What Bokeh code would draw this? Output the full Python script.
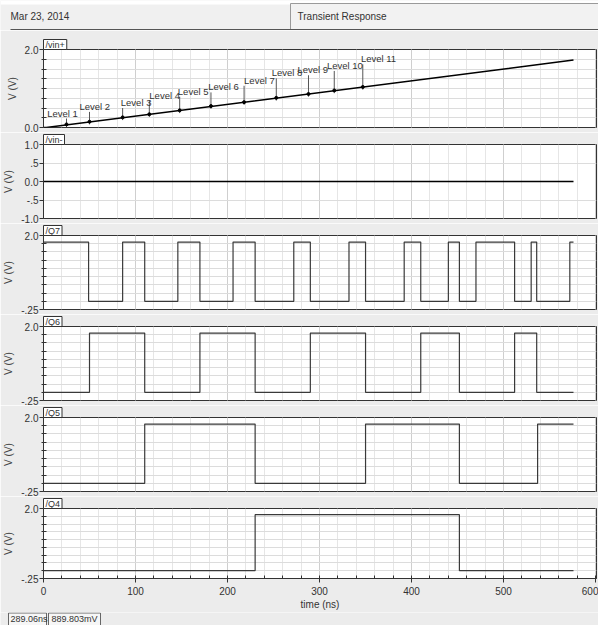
from bokeh.plotting import figure
from bokeh.layouts import column
from bokeh.models import Range1d, FixedTicker, SingleIntervalTicker
from bokeh.embed import file_html
from bokeh.resources import INLINE
from bokeh.core.properties import value

# ---------------- data ----------------
date_text = "Mar 23, 2014"
title_text = "Transient Response"
status_texts = ["289.06ns", "889.803mV"]

t_end = 576

ramp_t = [0, 3, 576]
ramp_v = [0.0, 0.0, 1.73]

level_names = ["Level 1", "Level 2", "Level 3", "Level 4", "Level 5", "Level 6",
               "Level 7", "Level 8", "Level 9", "Level 10", "Level 11"]
level_t = [25, 50, 86, 115, 148, 182, 218, 253, 288, 316, 347]
level_v = [0.08, 0.15, 0.26, 0.34, 0.44, 0.55, 0.65, 0.76, 0.86, 0.95, 1.04]
level_label_t = [4, 39, 84, 115, 146, 179, 218, 248, 276, 308, 345]
level_label_v = [0.23, 0.40, 0.50, 0.69, 0.79, 0.90, 1.07, 1.26, 1.34, 1.45, 1.62]

vin_minus_t = [0, 576]
vin_minus_v = [0.0, 0.0]

q_high = 1.8
q_low = 0.0
q7_start_high = True
q7_edges = [49, 86, 110, 146, 170, 206, 230, 272, 290, 332, 350, 392, 410, 440,
            452, 470, 512, 530, 536, 572]
q6_start_high = False
q6_edges = [50, 110, 170, 230, 290, 350, 410, 452, 512, 536]
q5_start_high = False
q5_edges = [110, 230, 350, 452, 537]
q4_start_high = False
q4_edges = [230, 452]

# ---------------- style ----------------
FONT = "'Liberation Sans Narrow', 'Liberation Sans', Arial, sans-serif"
BG = "#ececec"
TXT = "#333333"
W = 598
LEFT = 43
RIGHT = 2


def step_xy(start_high, edges):
    cur = q_high if start_high else q_low
    xs, ys = [0], [cur]
    for e in edges:
        nxt = q_low if cur == q_high else q_high
        xs += [e, e]
        ys += [cur, nxt]
        cur = nxt
    xs.append(t_end)
    ys.append(cur)
    return xs, ys


def panel(name, y0, y1, major, labels, minor, grid, height, top, bottom=5, xaxis=False):
    p = figure(width=W, height=height, x_range=Range1d(0, 601), y_range=Range1d(y0, y1),
               output_backend="svg", toolbar_location=None,
               x_axis_location="below" if xaxis else None,
               min_border_left=LEFT, min_border_right=RIGHT,
               min_border_top=top, min_border_bottom=bottom,
               background_fill_color="white", border_fill_color=BG,
               outline_line_color="#333333", outline_line_width=1)
    # name box: title sitting on the frame
    p.title.text = name
    p.title.align = "left"
    p.title.standoff = 0
    p.title.text_font = FONT
    p.title.text_font_size = "9px"
    p.title.text_font_style = "normal"
    p.title.text_line_height = 1.0
    p.title.text_color = TXT
    p.title.background_fill_color = "white"
    p.title.border_line_color = "#333333"
    p.title.padding = (2, 0)
    # grids
    p.xgrid.ticker = SingleIntervalTicker(interval=100, num_minor_ticks=5)
    p.xgrid.grid_line_color = "#cfcfcf"
    p.xgrid.minor_grid_line_color = "#e6e6e6"
    p.ygrid.ticker = FixedTicker(ticks=grid)
    p.ygrid.grid_line_color = "#dcdcdc"
    # y axis
    ya = p.yaxis[0]
    ya.ticker = FixedTicker(ticks=major, minor_ticks=minor)
    ya.major_label_overrides = {m: l for m, l in zip(major, labels)}
    ya.axis_label = "V (V)"
    ya.axis_label_text_font = FONT
    ya.axis_label_text_font_size = "10px"
    ya.axis_label_text_font_style = "normal"
    ya.axis_label_text_color = "#444444"
    ya.axis_label_standoff = 4
    ya.major_label_text_font = FONT
    ya.major_label_text_font_size = "10px"
    ya.major_label_text_color = TXT
    ya.major_label_standoff = 1
    ya.axis_line_color = "#333333"
    ya.major_tick_line_color = "#333333"
    ya.major_tick_out = 4
    ya.major_tick_in = 0
    ya.minor_tick_line_color = "#333333"
    ya.minor_tick_out = 2
    ya.minor_tick_in = 3
    if xaxis:
        xa = p.xaxis[0]
        xa.ticker = SingleIntervalTicker(interval=100, num_minor_ticks=5)
        xa.axis_label = "time (ns)"
        xa.axis_label_text_font = FONT
        xa.axis_label_text_font_size = "10px"
        xa.axis_label_text_font_style = "normal"
        xa.axis_label_text_color = TXT
        xa.axis_label_standoff = 1
        xa.major_label_text_font = FONT
        xa.major_label_text_font_size = "10px"
        xa.major_label_text_color = TXT
        xa.major_label_standoff = 4
        xa.axis_line_color = "#333333"
        xa.major_tick_line_color = "#333333"
        xa.major_tick_out = 4
        xa.major_tick_in = 0
        xa.minor_tick_line_color = "#333333"
        xa.minor_tick_out = 0
        xa.minor_tick_in = 3
    return p


# ---------------- header ----------------
hdr = figure(width=W, height=30, x_range=Range1d(0, W), y_range=Range1d(0, 30),
             output_backend="svg", toolbar_location=None,
             x_axis_location=None, y_axis_location=None,
             min_border=0, background_fill_color="#f0f0f0", border_fill_color="#f0f0f0",
             outline_line_color=None)
hdr.xgrid.visible = False
hdr.ygrid.visible = False
hdr.quad(left=0, right=W, bottom=26, top=30, fill_color="white", line_color=None)
hdr.quad(left=290, right=W + 2, bottom=1, top=27, fill_color="#f2f2f2",
         line_color="#9a9a9a", line_width=1)
hdr.segment(x0=10, y0=0.8, x1=W, y1=0.8, line_color="#555555", line_width=1.5)
hdr.text(x=[10, 297], y=[14.5, 14.5], text=[date_text, title_text],
         text_font=value(FONT), text_font_size="10px", text_color=TXT,
         text_baseline="middle", text_align="left")

# ---------------- panels ----------------
quarter = [2.0, 1.75, 1.5, 1.25, 1.0, 0.75, 0.5, 0.25, 0.0]
q_quarter = quarter + [-0.25]

p1 = panel("/vin+", 0.0, 2.0, [2.0, 0.0], ["2.0", "0.0"], quarter[1:-1], quarter, 102, 19)
p1.line(ramp_t, ramp_v, line_color="black", line_width=1.5)
p1.segment(x0=level_t, y0=[v - 0.07 for v in level_v], x1=level_t, y1=level_label_v,
           line_color="#555555", line_width=1)
p1.scatter(level_t, level_v, size=3, color="black")
p1.text(x=level_label_t, y=level_label_v, text=level_names, text_font=value(FONT),
        text_font_size="9.5px", text_color=TXT, text_baseline="bottom", text_align="left")

p2 = panel("/vin-", -1.0, 1.0, [1.0, 0.5, 0.0, -0.5, -1.0], ["1.0", ".5", "0.0", "-.5", "-1.0"],
           [], [0.5, -0.5], 91, 9)
p2.line(vin_minus_t, vin_minus_v, line_color="black", line_width=1.5)

specs = [("/Q7", q7_start_high, q7_edges, 91, 9, 5),
         ("/Q6", q6_start_high, q6_edges, 91, 9, 5),
         ("/Q5", q5_start_high, q5_edges, 91, 9, 5),
         ("/Q4", q4_start_high, q4_edges, 116, 9, 31)]
qpanels = []
for i, (nm, st_h, ed, h, tp, bt) in enumerate(specs):
    last = i == len(specs) - 1
    p = panel(nm, -0.25, 2.0, [2.0, -0.25], ["2.0", "-.25"], q_quarter[1:-1], q_quarter,
              h, tp, bt, xaxis=last)
    xs, ys = step_xy(st_h, ed)
    p.line(xs, ys, line_color="#3a3a3a", line_width=1.2)
    qpanels.append(p)

# ---------------- status bar ----------------
st = figure(width=W, height=13, x_range=Range1d(0, W), y_range=Range1d(0, 13),
            output_backend="svg", toolbar_location=None,
            x_axis_location=None, y_axis_location=None,
            min_border=0, background_fill_color=BG, border_fill_color=BG,
            outline_line_color=None)
st.xgrid.visible = False
st.ygrid.visible = False
st.quad(left=[8, 48], right=[46, 100], bottom=[-5, -5], top=[12.5, 12.5],
        fill_color="#f6f6f6", line_color="#666666")
st.text(x=[10, 51], y=[11.5, 11.5], text=status_texts, text_font=value(FONT),
        text_font_size="9px", text_color=TXT, text_baseline="top", text_align="left")

panels = column(p1, p2, *qpanels, spacing=0)
layout = column(hdr, panels, st, spacing=0)
open("out.html", "w").write(file_html(layout, INLINE))
